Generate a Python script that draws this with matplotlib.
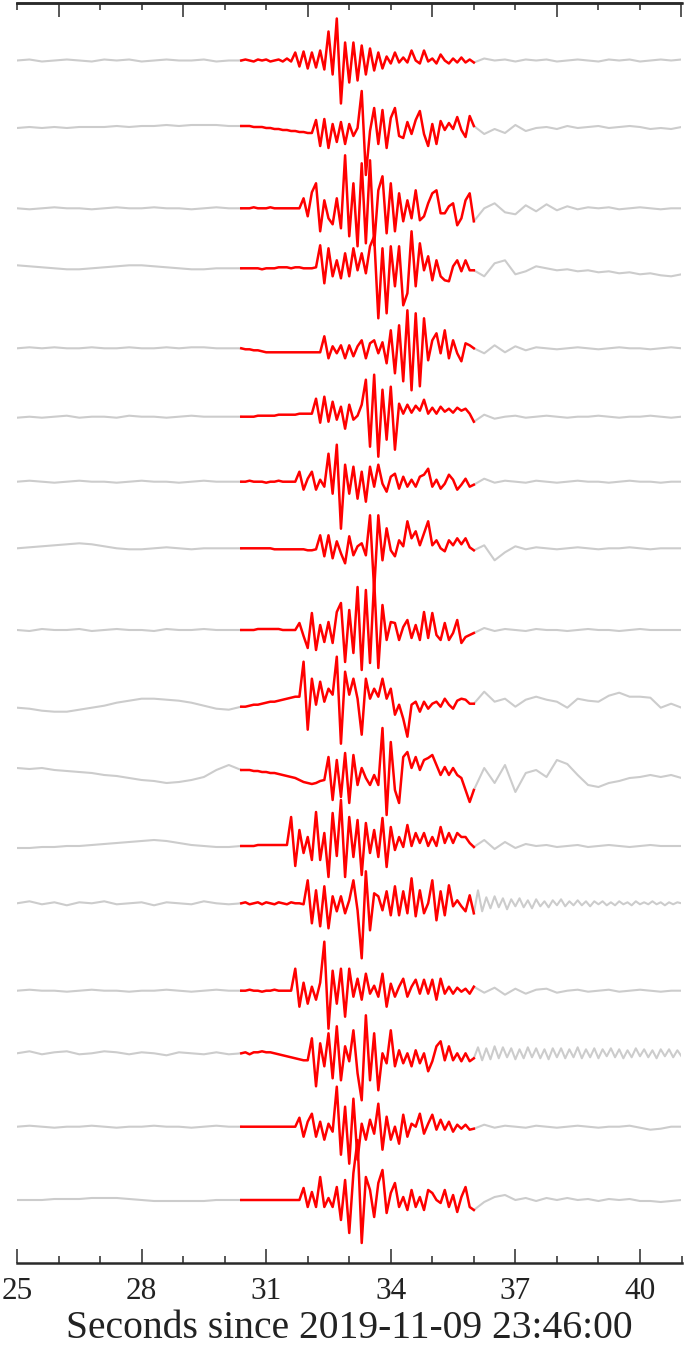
import numpy as np
import matplotlib.pyplot as plt
from matplotlib.ticker import MultipleLocator

# window limits (s since 2019-11-09 23:46:00)
t_start, t_pick, t_end, t_stop = 25.0, 30.4, 36.0, 41.0

# trace baselines, top to bottom (plot units, y grows downward)
offsets = [60.5, 126, 208.3, 268.3, 348.3, 416.7, 481.7, 548.3, 630,
           706.7, 770, 846, 903.3, 990.7, 1053.3, 1126.7, 1200]

# gray noise before the window, 25.0 .. 30.1 s every 0.3 s (up = positive)
pre_noise = [
    [0, 1, -1, 0, 1, 0, -1, 1, 0, 1, -1, 0, 1, 0, 0, 1, -1, 0],
    [-2, -1, -2, -1, -2, -1, -1, -1, 0, -1, 0, 0, 1, 0, 1, 1, 1, 0],
    [0, -1, 0, 1, 0, 0, -1, 0, 1, 0, 0, 1, 0, 0, -1, 0, 1, 0],
    [3, 2, 1, 0, -1, -1, 0, 1, 2, 3, 3, 2, 1, 0, -1, -1, 0, 0],
    [0, 1, 0, 1, 0, 0, 1, 0, 0, 1, 0, 0, 1, 0, 1, 1, 0, 0],
    [-1, 0, -1, 0, 1, -1, 0, 0, -1, 1, 0, 0, -1, 0, 1, 0, 0, 0],
    [0, 1, 0, -1, 0, 1, 0, 0, -1, 0, 1, 0, 0, -1, 0, 1, 0, 0],
    [0, 1, 2, 3, 4, 5, 4, 2, 0, -1, -1, 0, 1, 0, -1, 0, 0, 0],
    [0, -1, 1, 0, 0, 1, -1, 0, 1, 0, 0, -1, 1, 0, 0, 1, 0, 0],
    [-1, -2, -4, -5, -5, -3, -1, 1, 4, 6, 8, 8, 7, 6, 4, 1, -2, -3],
    [2, 1, 2, 0, -1, -2, -3, -5, -6, -8, -10, -11, -13, -12, -10, -7, 0, 5],
    [-2, -2, -1, -1, 0, 0, 1, 2, 3, 4, 5, 6, 5, 3, 1, 0, -1, -1],
    [0, 2, -1, 1, -2, 1, 0, 2, -1, 0, 1, -2, 1, 0, -1, 2, 0, -1],
    [0, 1, 0, 0, -1, 0, 1, 0, 0, -1, 0, 0, 1, 0, -1, 0, 1, 0],
    [0, 2, -1, 1, 2, -1, 0, 2, 1, -1, 1, 0, -2, 1, 0, -1, 1, -1],
    [0, 1, 0, -1, 0, 0, 1, 0, -1, 0, 0, 1, 0, 0, -1, 0, 1, 0],
    [0, 0, 0, 1, 1, 1, 2, 2, 2, 1, 0, -1, -1, -1, -1, -1, 0, 0],
]

# red analysis window, 30.4 .. 36.0 s every 0.1 s
red_window = [
    [0, 1, 0, -1, 1, 0, 1, -1, 0, 1, -1, 2, -1, 8, -6, 9, -8, 8, -7, 10, -9, 29, -14, 42, -43,
     18, -22, 18, -20, 15, -14, 12, -10, 8, -8, 4, -3, 8, -2, 3, -2, 10, 0, -3, 10, -1, 2, -3,
     6, 0, -3, 2, -2, 3, -2, 1, -2],
    [0, 0, 0, -1, -1, -1, -2, -2, -3, -3, -4, -4, -5, -5, -6, -6, -7, -7, 6, -20, 7, -22, 2,
     -16, 4, -18, 2, -10, -2, 35, -49, -5, 18, -18, 16, -22, 8, 18, -10, -12, 4, -8, 6, 15, -8,
     -20, 2, -18, 5, -4, 3, -3, 9, -4, -11, 10, 0],
    [0, 0, 0, 1, 0, 0, 0, 1, 0, 0, 0, 0, 0, 0, 0, 10, -8, 16, 25, -23, 8, -10, -16, 10, -20, 53,
     -28, 25, -38, 45, -35, 48, -37, 18, 32, -25, 25, -23, 15, -13, 8, -10, 18, -12, -8, 5, 15,
     18, -5, -5, 2, 5, -17, -10, 8, 15, -13],
    [0, 0, 0, 0, 0, -1, 0, 0, 0, 1, 1, 1, 0, 1, 1, 0, 0, 0, 1, 23, -15, 20, -8, 8, -10, 15, -8,
     20, -2, 15, -5, 22, 32, -50, 20, -45, 22, -18, 22, -37, -25, 37, -18, 25, -2, 12, -12, 8,
     -8, -12, -13, 2, 8, -3, 8, -2, -2],
    [0, -1, -1, -2, -2, -3, -4, -4, -4, -4, -4, -4, -4, -4, -4, -4, -4, -4, -4, -4, 12, -10, 2,
     -5, 3, -10, 3, -8, 2, 8, -10, 5, 8, -5, 6, -15, 18, -25, 23, -33, 38, -42, 35, -38, 30,
     -12, 8, 15, -5, 18, -10, 8, -5, -13, 5, 3, 0],
    [0, 0, 0, 0, 1, 1, 1, 1, 1, 2, 2, 2, 2, 2, 3, 3, 3, 3, 18, -6, 20, -5, 15, -3, 10, -12, 12,
     -3, 1, 12, 37, -30, 42, -40, 27, -23, 30, -33, 13, 3, 12, 4, 11, 6, 17, 3, 9, 3, 10, 5, 8,
     4, 9, 6, 8, 3, -5],
    [0, 0, 1, 0, 0, 0, -1, 0, 0, 1, 0, 0, 0, 0, 10, -8, 3, 10, -8, 2, -5, 28, -12, 37, -47, 17,
     -12, 15, -17, 10, -20, 15, -5, 17, -2, -10, 5, 8, -7, 5, -5, 2, -5, 5, 7, 13, -5, 2, -7,
     -2, 7, 2, -8, -3, 3, -5, -3],
    [0, 0, 0, 0, 0, 0, 0, 0, -1, -1, -1, -1, -1, -1, -1, -1, -2, -2, -1, 13, -8, 13, -10, 7, -5,
     -15, 12, -7, 2, 5, -7, 33, -42, 33, -12, 20, -2, -8, 8, 2, 27, 10, 17, 3, 15, 27, 3, 8, 0,
     -3, 8, 3, 10, 4, 10, 1, -2],
    [0, 0, 0, 0, 1, 1, 1, 1, 1, 1, 0, 0, 0, 0, 7, -6, -18, 17, -20, 5, -12, 8, -13, 18, 27, -32,
     20, -23, 43, -40, 40, -33, 50, -38, 25, -10, 8, 7, -10, 3, 10, -8, 5, -10, 18, -8, 17, -5,
     -10, 7, -10, -3, 10, -13, -7, -5, -3],
    [0, 0, 1, 2, 2, 3, 4, 5, 5, 6, 7, 8, 9, 10, 10, 45, -23, 28, 2, 25, 5, 18, 12, 50, -37, 35,
     12, 28, 8, -28, 28, 8, 18, 10, 28, 8, 18, -8, 2, -12, -30, 2, 5, -5, 5, -2, 3, 5, 0, 8, 2,
     -2, 6, 8, 7, 3, 3],
    [0, 0, 0, -1, -1, -2, -2, -3, -3, -4, -5, -6, -7, -8, -10, -12, -13, -14, -13, -11, -10, 13,
     -30, 10, -27, 17, -33, 15, -15, 2, -8, -15, -5, -15, 42, -45, 28, -20, -33, 13, 18, 2, 13,
     0, 10, 12, 15, 5, -5, 3, -5, 2, -5, -8, -20, -32, -20],
    [0, 0, 0, 0, 1, 1, 1, 1, 1, 1, 1, 1, 29, -20, 16, -7, 9, -14, 34, -14, 13, -31, 33, -10, 46,
     -31, 29, -11, 26, -29, 23, -7, 16, -11, 28, -21, 19, -4, 9, -1, 21, 0, 13, 3, 13, 0, 9, 0,
     19, 3, 13, 3, 13, 9, 9, 3, -1],
    [0, 1, -1, 0, 1, -1, 1, 0, -1, 1, 0, -1, 1, 0, 0, -1, 23, -20, 13, -23, 17, -25, 7, -8, 7,
     -10, 3, 23, -7, -55, 32, -27, 10, 7, -7, 12, -12, 17, -12, 12, -10, 25, -13, 13, -10, 0, 23,
     -17, 12, -12, 18, -3, 3, -3, -8, 8, -10],
    [0, 0, 1, 0, 0, -1, 0, 0, 1, 0, 0, 0, 0, 22, -16, 8, -13, 4, -9, 8, 49, -38, 20, -13, 22,
     -26, 22, -6, 12, -9, 17, -3, 5, -6, 17, -16, 7, -6, 4, 12, -6, 4, 11, -3, 11, -3, 11, -9,
     12, -3, 4, -3, 3, -1, 2, -3, 4],
    [0, 1, -1, 1, 1, 2, 1, 1, 0, -1, -2, -3, -4, -5, -6, -7, -7, 15, -33, 10, -13, 20, -25, 27,
     -27, 7, -8, 23, -20, -47, 38, -27, 20, -37, 0, -10, 23, -13, 3, -10, 0, -13, 3, -10, 0,
     -18, -8, 7, 12, -7, 7, -7, 0, -8, 0, -8, -5],
    [0, 0, 0, 0, 0, 0, 0, 0, 0, 0, 0, 0, 0, 0, 9, -10, 5, 13, -10, 5, -13, 3, -5, 40, -28, 20,
     -37, 28, -33, 3, -13, 7, -7, 23, -23, 10, -13, 0, -17, 12, -10, 3, 0, 13, -7, 3, 12, -3, 7,
     -3, 5, -5, 2, -2, 2, -3, -2],
    [0, 0, 0, 0, 0, 0, 0, 0, 0, 0, 0, 0, 0, 0, 0, 12, -7, 8, -7, 23, -7, 2, -7, 13, -20, 20, -33,
     27, 60, -43, 23, 10, -17, 17, 30, -13, 7, 17, -7, 3, -10, 10, -7, 3, -10, 10, 7, 0, -3, 10,
     -7, 5, -12, 3, 13, -7, -10],
]

# gray noise after the window, up to 41.0 s
post_noise = [
    [2, 0, 1, -1, 1, 0, 1, -1, 0, 1, 0, -1, 1, 0, 1, -1, 0, 1, 0, 1],
    [-8, -3, -7, 1, -5, -2, -1, -3, 0, -2, -1, 0, -2, -1, 0, -1, -3, -2, -3, -1],
    [0, 5, -4, -6, 3, -3, 4, -2, 2, -1, 1, 0, 1, -1, 0, 1, 0, -1, 0, 0],
    [-8, 5, 8, -6, -3, 2, 0, -2, -1, -3, -2, -4, -3, -5, -4, -6, -5, -7, -8, -6],
    [-5, 3, -4, 2, -2, 1, 0, -1, 0, 1, 0, -1, 0, 1, 0, 0, -1, 0, 1, 0],
    [2, -2, 0, 1, -1, 0, 1, 0, -1, 0, 0, 1, 0, -1, 0, 0, 1, 0, -1, 0],
    [3, -1, 1, 0, -1, 1, 0, -1, 0, 1, 0, 0, -1, 0, 1, 0, 0, -1, 0, 0],
    [3, -12, -4, 2, -1, 1, 0, -1, 0, 1, 0, -1, 0, 0, 1, 0, -1, 0, 0, 0],
    [2, -1, 1, 0, -1, 1, 0, 0, -1, 0, 1, 0, 0, -1, 0, 1, 0, 0, 0, 0],
    [15, 5, 8, 0, 7, 10, 7, 5, -1, 8, 6, 5, 11, 14, 10, 10, 9, -1, 3, -1],
    [2, -13, 5, -22, -3, 0, -7, 10, 6, -5, -15, -17, -13, -11, -8, -7, -5, -7, -5, -8],
    [6, -3, 4, -2, 2, 0, 1, -1, 0, 1, -1, 0, 1, 0, -1, 0, 1, 0, 0, 0],
    [13, -8, 6, -5, 7, -4, 5, -6, 4, -3, 5, -4, 3, -5, 4, -3, 2, -4, 3, -2, 4, -3, 2, -2, 3,
     -2, 2, -3, 2, -1, 2, -2, 1, -2, 2, -1, 1, -2, 2, -1, 1, -1, 2, -1, 1, -2, 1, -1, 1, 0],
    [-2, 3, -4, 2, -3, 1, 2, -2, 0, 1, -1, 0, 1, -1, 0, 1, 0, -1, 0, 0],
    [6, -7, 5, -6, 7, -5, 6, -4, 5, -6, 4, -5, 6, -4, 5, -5, 4, -6, 5, -4, 5, -5, 4, -4, 6,
     -5, 4, -4, 5, -5, 4, -3, 5, -4, 4, -5, 3, -4, 5, -3, 4, -4, 3, -5, 4, -3, 4, -4, 3, -3],
    [2, -1, 1, 0, -1, 1, 0, -1, 0, 1, 0, -1, 0, 0, 1, -1, -3, -2, 0, 0],
    [-2, 3, 5, 0, 2, -1, 2, 0, 2, 0, 1, -1, 1, 0, 1, -1, -1, -2, -1, 0],
]

bottom_major = [25, 28, 31, 34, 37, 40]
top_major = [26, 29, 32, 35, 38, 41]

gray = '#cccccc'
frame = '#2a2a2a'

fig = plt.figure(figsize=(6.85, 13.51), dpi=100)
ax = fig.add_axes([17 / 685, 1 - 1263 / 1351, 664.5 / 685, 1260 / 1351])

for off, pre, red, post in zip(offsets, pre_noise, red_window, post_noise):
    t_pre = np.linspace(t_start, t_pick, len(pre) + 1)
    ax.plot(t_pre, off - np.array(pre + [red[0]]), color=gray, lw=1.5)
    t_post = np.linspace(t_end, t_stop, len(post) + 1)
    ax.plot(t_post, off - np.array([red[-1]] + post), color=gray, lw=1.5)
    t_red = np.linspace(t_pick, t_end, len(red))
    ax.plot(t_red, off - np.array(red), color='red', lw=1.8)

ax.set_xlim(t_start, t_stop)
ax.set_ylim(1263, 3)
ax.set_yticks([])
for side in ['left', 'right']:
    ax.spines[side].set_visible(False)
for side in ['top', 'bottom']:
    ax.spines[side].set_linewidth(1.8)
    ax.spines[side].set_color(frame)

ax.set_xticks(bottom_major)
ax.xaxis.set_minor_locator(MultipleLocator(1))
ax.tick_params(axis='x', which='both', direction='in', color=frame, width=1.1,
               labelsize=22.5, pad=10, labelcolor='#222222')
ax.tick_params(axis='x', which='major', length=10)
ax.tick_params(axis='x', which='minor', length=5)
for lab in ax.get_xticklabels():
    lab.set_fontfamily('Liberation Serif')

top = ax.secondary_xaxis('top')
top.set_xticks(top_major)
top.xaxis.set_minor_locator(MultipleLocator(1))
top.tick_params(axis='x', which='both', direction='in', color=frame, width=1.1,
                labeltop=False)
top.tick_params(axis='x', which='major', length=10)
top.tick_params(axis='x', which='minor', length=5)
top.spines['top'].set_linewidth(1.8)
top.spines['top'].set_color(frame)

ax.set_xlabel('Seconds since 2019-11-09 23:46:00', fontsize=28.5,
              fontfamily='Liberation Serif', color='#222222', labelpad=3)

fig.savefig('out.png', dpi=100)
